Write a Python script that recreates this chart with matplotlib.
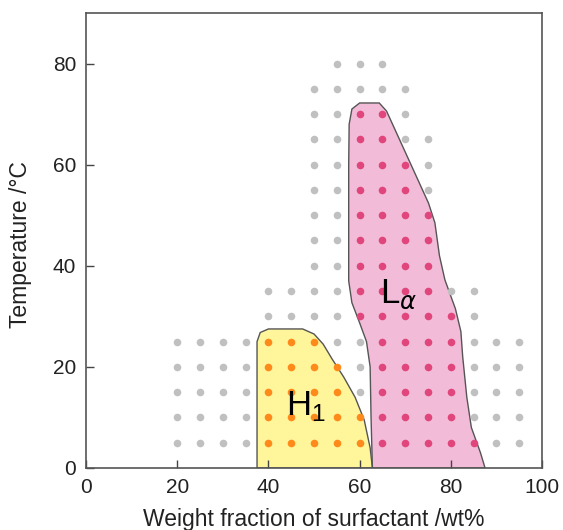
import matplotlib
matplotlib.use("Agg")
import matplotlib.pyplot as plt
from matplotlib.patches import Polygon

plt.rcParams['font.family'] = ['Liberation Sans', 'DejaVu Sans']
plt.rcParams['mathtext.fontset'] = 'custom'
plt.rcParams['mathtext.rm'] = 'Liberation Sans'
plt.rcParams['mathtext.it'] = 'DejaVu Sans:italic'

# sample points (wt% per temperature row) for each phase
grey_rows = {
    80: [55, 60, 65],
    75: [50, 55, 60, 65, 70],
    70: [50, 55, 70],
    65: [50, 55, 70, 75],
    60: [50, 55, 75],
    55: [50, 55, 75],
    50: [50, 55],
    45: [50, 55],
    40: [50, 55],
    35: [40, 45, 50, 55, 80, 85],
    30: [40, 45, 50, 55, 85],
    25: [20, 25, 30, 35, 55, 60, 85, 90, 95],
    20: [20, 25, 30, 35, 60, 85, 90, 95],
    15: [20, 25, 30, 35, 60, 85, 90, 95],
    10: [20, 25, 30, 35, 85, 90, 95],
    5: [20, 25, 30, 35, 90, 95],
}
h1_rows = {
    25: [40, 45, 50],
    20: [40, 45, 50, 55],
    15: [40, 45, 50, 55],
    10: [40, 45, 50, 55, 60],
    5: [40, 45, 50, 55, 60],
}
la_rows = {
    70: [60, 65],
    65: [60, 65],
    60: [60, 65, 70],
    55: [60, 65, 70],
    50: [60, 65, 70, 75],
    45: [60, 65, 70, 75],
    40: [60, 65, 70, 75],
    35: [60, 65, 70, 75],
    30: [60, 65, 70, 75, 80],
    25: [65, 70, 75, 80],
    20: [65, 70, 75, 80],
    15: [65, 70, 75, 80],
    10: [65, 70, 75, 80],
    5: [65, 70, 75, 80, 85],
}

# phase boundaries (wt%, T)
h1_wt = [37.5, 37.5, 38.2, 40, 47.5, 50, 52, 54, 56.5, 59, 61, 62.3, 62.8]
h1_t = [0, 25, 26.8, 27.5, 27.5, 26.5, 24.5, 21.5, 18, 14, 9.5, 4, 0]
la_wt = [62.8, 62.5, 62.3, 61.5, 60, 58.3, 57.6, 57.6, 57.7, 58.3, 60, 64.3,
         65.9, 75.1, 76.5, 77.5, 78.7, 81, 82.2, 82.6, 83.5, 84.5, 86.5, 87.5]
la_t = [0, 10, 20, 25, 28.7, 32.7, 37, 60, 68, 71, 72.2, 72.2,
        70.6, 52.4, 48.5, 42, 37.2, 31.5, 27, 22, 14, 8, 3, 0]


def flatten(rows):
    xs, ys = [], []
    for t, wts in rows.items():
        for w in wts:
            xs.append(w)
            ys.append(t)
    return xs, ys


fig = plt.figure(figsize=(5.63, 5.30), dpi=100)
ax = fig.add_axes([0.1528, 0.117, 0.81, 0.8585])

ax.add_patch(Polygon(list(zip(h1_wt, h1_t)), closed=True, facecolor='#fff59a',
                     edgecolor='#555555', linewidth=1, zorder=1))
ax.add_patch(Polygon(list(zip(la_wt, la_t)), closed=True, facecolor='#f2bcd9',
                     edgecolor='#555555', linewidth=1, zorder=1))

x, y = flatten(grey_rows)
ax.scatter(x, y, s=30, color='#c0c0c0', linewidths=0, zorder=2)
x, y = flatten(h1_rows)
ax.scatter(x, y, s=30, color='#ff8a1c', linewidths=0, zorder=2)
x, y = flatten(la_rows)
ax.scatter(x, y, s=30, color='#e0457b', linewidths=0, zorder=2)

ax.text(48.3, 12.3, r'H$_\mathregular{1}$', fontsize=25, ha='center', va='center', zorder=3)
ax.text(68.5, 34.3, r'L$_\alpha$', fontsize=25, ha='center', va='center', zorder=3)

ax.set_xlim(0, 100)
ax.set_ylim(0, 90)
ax.set_xticks([0, 20, 40, 60, 80, 100])
ax.set_yticks([0, 20, 40, 60, 80])
ax.tick_params(direction='in', length=6, width=1, labelsize=15, pad=7,
               colors='#444444', labelcolor='#222222')
for s in ax.spines.values():
    s.set_color('#555555')
    s.set_linewidth(1.2)

ax.set_xlabel('Weight fraction of surfactant /wt%', fontsize=16.5, color='#222222')
ax.set_ylabel('Temperature /°C', fontsize=16.5, color='#222222')
ax.xaxis.set_label_coords(0.5, -0.088)
ax.yaxis.set_label_coords(-0.118, 0.49)

fig.savefig('out.png', dpi=100)
